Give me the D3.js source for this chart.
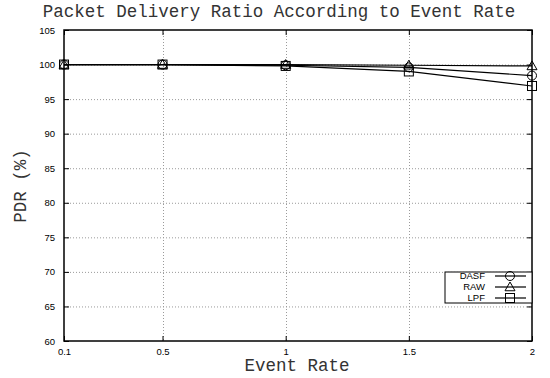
<!DOCTYPE html>
<html>
<head>
<meta charset="utf-8">
<script src="https://cdn.jsdelivr.net/npm/d3@7"></script>
<style>
  html, body { margin: 0; padding: 0; background: #fff; }
  svg { display: block; }
</style>
</head>
<body>
<svg id="chart" width="550" height="378"></svg>
<script>
// Event rates on the x axis
const eventRates = [0.1, 0.5, 1, 1.5, 2];
const xTickLabels = ["0.1", "0.5", "1", "1.5", "2"];
const yTicks = [60, 65, 70, 75, 80, 85, 90, 95, 100, 105];

// Packet delivery ratio (%) per scheme
const dasf = [100, 100, 99.9, 99.6, 98.4];
const raw = [100, 100, 100, 99.9, 99.8];
const lpf = [100, 100, 99.8, 99.0, 96.9];

const seriesNames = ["DASF", "RAW", "LPF"];
const seriesValues = [dasf, raw, lpf];
const seriesMarkers = ["circle", "triangle", "square"];

const svg = d3.select("#chart");
const plotLeft = 64, plotRight = 532, plotTop = 30, plotBottom = 341;

const x = d3.scaleLinear().domain([0.1, 2]).range([plotLeft, plotRight]);
const y = d3.scaleLinear().domain([60, 105]).range([plotBottom, plotTop]);

// dotted grid
const grid = svg.append("g");
grid.selectAll("line.gy").data(yTicks.filter(v => v > 60 && v < 105)).enter()
  .append("line")
  .attr("x1", plotLeft).attr("x2", plotRight)
  .attr("y1", d => y(d) + 0.5).attr("y2", d => y(d) + 0.5)
  .attr("stroke", "#9a9a9a").attr("stroke-width", 1).attr("stroke-dasharray", "1,2");
grid.selectAll("line.gx").data(eventRates.filter(v => v > 0.1 && v < 2)).enter()
  .append("line")
  .attr("x1", d => Math.round(x(d)) + 0.5).attr("x2", d => Math.round(x(d)) + 0.5)
  .attr("y1", plotTop).attr("y2", plotBottom)
  .attr("stroke", "#9a9a9a").attr("stroke-width", 1).attr("stroke-dasharray", "1,2");

// frame
svg.append("rect")
  .attr("x", plotLeft).attr("y", plotTop)
  .attr("width", plotRight - plotLeft).attr("height", plotBottom - plotTop)
  .attr("fill", "none").attr("stroke", "#000").attr("stroke-width", 1.5);

// axes with inward ticks
const yAxis = d3.axisLeft(y).tickValues(yTicks).tickSize(-5).tickPadding(9).tickFormat(d3.format("d"));
const gy = svg.append("g").attr("transform", `translate(${plotLeft},0)`).call(yAxis);
const yAxisR = d3.axisRight(y).tickValues(yTicks).tickSize(-5).tickFormat("");
const gyr = svg.append("g").attr("transform", `translate(${plotRight},0)`).call(yAxisR);
const xAxis = d3.axisBottom(x).tickValues(eventRates).tickSize(-5).tickPadding(7)
  .tickFormat((d, i) => xTickLabels[i]);
const gx = svg.append("g").attr("transform", `translate(0,${plotBottom})`).call(xAxis);
const xAxisT = d3.axisTop(x).tickValues(eventRates).tickSize(-5).tickFormat("");
const gxt = svg.append("g").attr("transform", `translate(0,${plotTop})`).call(xAxisT);

[gy, gyr, gx, gxt].forEach(g => {
  g.select(".domain").remove();
  g.selectAll(".tick line").attr("stroke", "#000").attr("stroke-width", 1);
  g.selectAll(".tick text")
    .attr("font-family", "Liberation Sans, Arial, sans-serif")
    .attr("font-size", 9.5).attr("fill", "#000");
});
gy.selectAll(".tick text").attr("dy", "0.32em");
gx.selectAll(".tick text").attr("dy", "0.7em");

// marker shapes
function drawMarker(g, type, cx, cy) {
  if (type === "circle") {
    g.append("circle").attr("cx", cx).attr("cy", cy).attr("r", 4.5)
      .attr("fill", "none").attr("stroke", "#000").attr("stroke-width", 1);
  } else if (type === "triangle") {
    const s = 5;
    g.append("path")
      .attr("d", `M${cx},${cy - s}L${cx + s},${cy + s * 0.75}L${cx - s},${cy + s * 0.75}Z`)
      .attr("fill", "none").attr("stroke", "#000").attr("stroke-width", 1);
  } else {
    g.append("rect").attr("x", cx - 4.5).attr("y", cy - 4.5).attr("width", 9).attr("height", 9)
      .attr("fill", "none").attr("stroke", "#000").attr("stroke-width", 1);
  }
}

const line = d3.line().x((d, i) => x(eventRates[i])).y(d => y(d));
const plot = svg.append("g");
seriesValues.forEach((vals, si) => {
  plot.append("path").datum(vals).attr("d", line)
    .attr("fill", "none").attr("stroke", "#000").attr("stroke-width", 1.2);
  vals.forEach((v, i) => drawMarker(plot, seriesMarkers[si], x(eventRates[i]), y(v)));
});

// legend
const lg = svg.append("g");
lg.append("rect").attr("x", 445).attr("y", 272).attr("width", 87).attr("height", 31)
  .attr("fill", "#fff").attr("stroke", "#000").attr("stroke-width", 1);
seriesNames.forEach((name, i) => {
  const ly = 276 + i * 11;
  lg.append("text").attr("x", 485).attr("y", ly).attr("dy", "0.35em")
    .attr("text-anchor", "end").attr("font-family", "Liberation Sans, Arial, sans-serif")
    .attr("font-size", 9.5).text(name);
  lg.append("line").attr("x1", 495).attr("x2", 526).attr("y1", ly).attr("y2", ly)
    .attr("stroke", "#000").attr("stroke-width", 1.2);
  drawMarker(lg, seriesMarkers[i], 510, ly);
});

// titles
const mono = "Liberation Mono, Courier New, monospace";
svg.append("text").attr("x", 279).attr("y", 17)
  .attr("text-anchor", "middle").attr("font-family", mono)
  .attr("font-size", 17.5).attr("fill", "#333").text("Packet Delivery Ratio According to Event Rate");
svg.append("text").attr("x", 297).attr("y", 371)
  .attr("text-anchor", "middle").attr("font-family", mono)
  .attr("font-size", 17.5).attr("fill", "#333").text("Event Rate");
svg.append("text").attr("transform", "translate(26,186) rotate(-90)")
  .attr("text-anchor", "middle").attr("font-family", mono)
  .attr("font-size", 17.5).attr("fill", "#333").text("PDR (%)");
</script>
</body>
</html>
